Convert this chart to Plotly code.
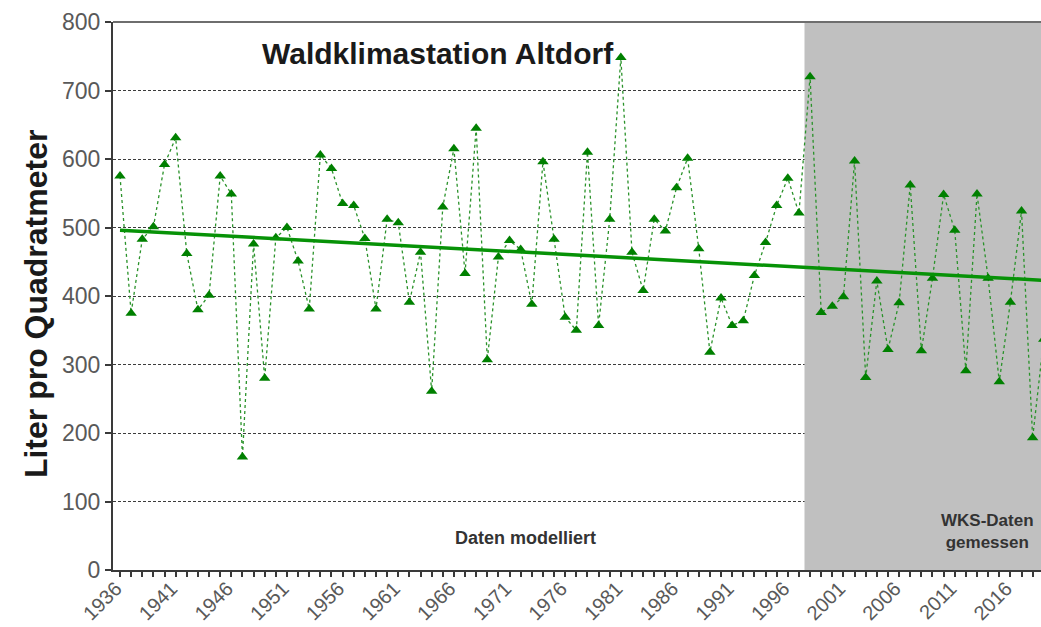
import plotly.graph_objects as go

# ---- data ----
years = list(range(1936, 2020))
precip = [
    575, 375, 483, 501, 592, 631, 462, 380, 401, 575,   # 1936-1945
    549, 165, 476, 280, 485, 500, 451, 381, 606, 586,   # 1946-1955
    535, 532, 484, 381, 512, 507, 391, 464, 261, 530,   # 1956-1965
    615, 433, 645, 307, 457, 481, 468, 388, 596, 483,   # 1966-1975
    369, 350, 610, 357, 512, 748, 464, 408, 512, 495,   # 1976-1985
    558, 601, 469, 318, 397, 357, 364, 430, 478, 532,   # 1986-1995
    572, 521, 720, 376, 385, 399, 597, 281, 422, 322,   # 1996-2005
    390, 562, 320, 426, 548, 496, 291, 549, 426, 275,   # 2006-2015
    391, 524, 193, 337,                                 # 2016-2019
]
trend_years = [1936, 2020]
trend_values = [496, 422]
measured_start = 1998
tick_years = list(range(1936, 2017, 5))
y_ticks = [0, 100, 200, 300, 400, 500, 600, 700, 800]

title_text = "Waldklimastation Altdorf"
y_title = "Liter pro Quadratmeter"
label_model = "Daten modelliert"
label_measured = "WKS-Daten<br>gemessen"

# ---- figure ----
FONT = "Arial, Liberation Sans, sans-serif"
x_range = [1935.37, 2018.75]

fig = go.Figure()

fig.add_trace(go.Scatter(
    x=years, y=precip, mode="lines+markers",
    line=dict(color="#2a922a", width=1.3, dash="dot"),
    marker=dict(symbol="triangle-up", size=10, color="#008000"),
    hoverinfo="x+y", showlegend=False,
))
fig.add_trace(go.Scatter(
    x=trend_years, y=trend_values, mode="lines",
    line=dict(color="#079207", width=3.5),
    hoverinfo="skip", showlegend=False,
))

# grey "measured" background
fig.add_shape(type="rect", xref="x", yref="y",
              x0=measured_start - 0.5, x1=x_range[1], y0=0, y1=800,
              fillcolor="#c0c0c0", line=dict(width=0), layer="between")
# top border
fig.add_shape(type="line", xref="paper", yref="paper", x0=0, x1=1, y0=1, y1=1,
              line=dict(color="#6e6e6e", width=2))

fig.add_annotation(text=title_text, x=0.3497, y=0.943, xref="paper", yref="paper",
                   xanchor="center", yanchor="middle", showarrow=False,
                   font=dict(family=FONT, size=30, color="#1a1a1a", weight="bold"))
fig.add_annotation(text=label_model, x=1972.4, y=47, xref="x", yref="y",
                   xanchor="center", yanchor="middle", showarrow=False,
                   font=dict(family=FONT, size=18, color="#333333", weight="bold"))
fig.add_annotation(text=label_measured, x=2013.9, y=56, xref="x", yref="y",
                   xanchor="center", yanchor="middle", showarrow=False,
                   font=dict(family=FONT, size=17, color="#333333", weight="bold"))
fig.add_annotation(text=y_title, x=-0.083, y=0.487, xref="paper", yref="paper",
                   xanchor="center", yanchor="middle", textangle=-90, showarrow=False,
                   font=dict(family=FONT, size=32, color="#1a1a1a", weight="bold"))

fig.update_layout(
    width=1041, height=627,
    margin=dict(l=113, r=0, t=22, b=57, pad=0),
    paper_bgcolor="white", plot_bgcolor="white",
    font=dict(family=FONT),
    xaxis=dict(
        range=x_range, tickmode="array", tickvals=tick_years,
        ticktext=[str(y) for y in tick_years], tickangle=-45,
        tickfont=dict(family=FONT, size=20, color="#595959"),
        ticklabelstandoff=-8, ticklabelshift=-4,
        showgrid=False, zeroline=False,
        showline=True, linecolor="#3a3a3a", linewidth=2,
        ticks="outside", ticklen=5, tickcolor="#3a3a3a", tickwidth=1.5,
        minor=dict(dtick=1, tick0=1936, ticks="outside", ticklen=5,
                   tickcolor="#3a3a3a", tickwidth=1.5, showgrid=False),
    ),
    yaxis=dict(
        range=[0, 800], tickmode="array", tickvals=y_ticks,
        tickfont=dict(family=FONT, size=23, color="#595959"),
        showgrid=True, gridcolor="#3c3c3c", gridwidth=1, griddash="3px,2px",
        zeroline=False,
        showline=True, linecolor="#3a3a3a", linewidth=2,
        ticks="outside", ticklen=6, tickcolor="#3a3a3a", tickwidth=1.5,
    ),
)

fig.write_html(
    "out.html",
    config={"displayModeBar": False},
    post_script="document.body.style.margin='0';document.body.style.overflow='hidden';",
)
